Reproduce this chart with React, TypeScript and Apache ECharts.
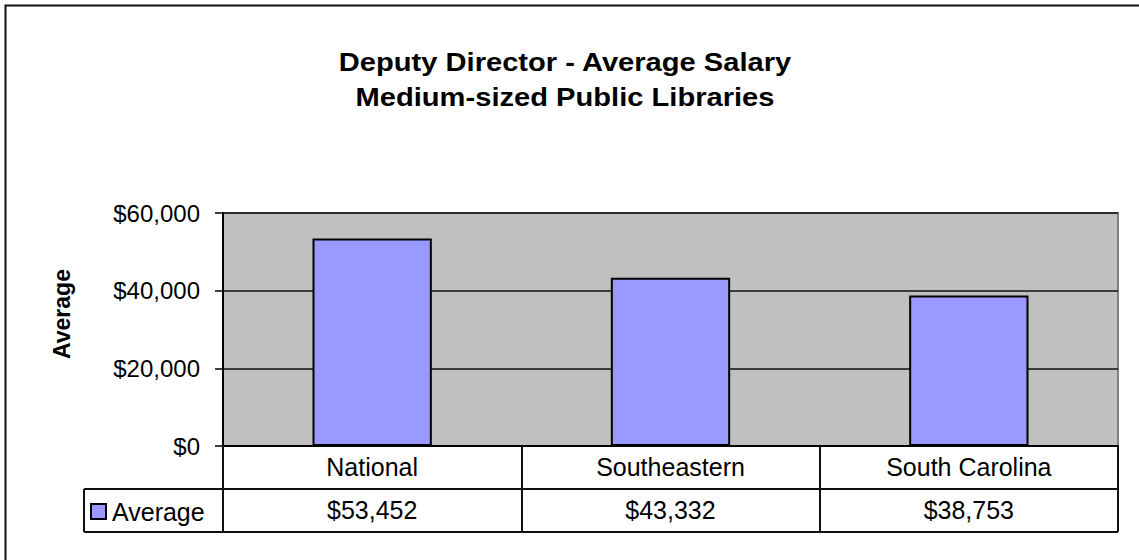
import React, { useEffect, useRef } from "react";
import * as echarts from "echarts";

const titleLines = ["Deputy Director - Average Salary", "Medium-sized Public Libraries"];
const categories = ["National", "Southeastern", "South Carolina"];
const seriesName = "Average";
const averageSalary = [53452, 43332, 38753];
const yTicks = { min: 0, max: 60000, interval: 20000 };

const fmt = (v: number) => "$" + Math.round(v).toLocaleString("en-US");

const FONT = "'Liberation Sans', Arial, Helvetica, sans-serif";

export default function App() {
  const ref = useRef<HTMLDivElement>(null);
  useEffect(() => {
    if (!ref.current) return;
    const chart = echarts.init(ref.current, undefined, { renderer: "svg" });
    const gl = 223, gt = 213, gw = 895, gh = 233;
    const gr = gl + gw, gb = gt + gh;
    const row1 = gb + 43, row2 = gb + 86, legLeft = 84;
    const lineStyle = { stroke: "#111", lineWidth: 2 };
    chart.setOption({
      animation: false,
      backgroundColor: "#fff",
      textStyle: { fontFamily: FONT },
      grid: {
        left: gl, top: gt, width: gw, height: gh,
        show: true, backgroundColor: "#C0C0C0", borderColor: "#808080", borderWidth: 2,
      },
      legend: {
        show: true, left: 85, top: 494, itemWidth: 15, itemHeight: 15, itemGap: 6,
        icon: "rect",
        itemStyle: { color: "#9999FF", borderColor: "#000", borderWidth: 2 },
        textStyle: { fontSize: 25, color: "#000", fontFamily: FONT, padding: [0, 0, 0, 1] },
        data: [seriesName],
      },
      xAxis: [
        {
          type: "category", data: categories, position: "bottom",
          axisLine: { show: true, lineStyle: { color: "#000", width: 2 } },
          axisTick: { show: true, length: 86, lineStyle: { color: "#111", width: 2 } },
          axisLabel: { fontSize: 25, color: "#000", margin: 8, fontFamily: FONT },
        },
        {
          type: "category", data: averageSalary.map(fmt), position: "bottom", offset: 43,
          axisLine: { show: false }, axisTick: { show: false },
          axisLabel: { fontSize: 25, color: "#000", margin: 8, fontFamily: FONT },
        },
      ],
      yAxis: {
        type: "value", min: yTicks.min, max: yTicks.max, interval: yTicks.interval,
        axisLine: { show: true, lineStyle: { color: "#000", width: 2 } },
        axisTick: { show: true, length: 8, lineStyle: { color: "#000", width: 1.5 } },
        axisLabel: { fontSize: 24, color: "#000", margin: 23, formatter: (v: number) => fmt(v), fontFamily: FONT },
        splitLine: { show: true, lineStyle: { color: "#111", width: 1.5 } },
      },
      series: [
        {
          name: seriesName, type: "bar", data: averageSalary, barWidth: "40%",
          itemStyle: { color: "#9999FF", borderColor: "#000", borderWidth: 2 },
        },
      ],
      graphic: [
        { type: "rect", shape: { x: 5.5, y: 5.5, width: 1200, height: 600 }, style: { fill: "none", stroke: "#111", lineWidth: 2 }, silent: true },
        ...titleLines.map((t, i) => ({
          type: "text", x: 565, y: 62.5 + i * 35, scaleX: 1.12,
          style: { text: t, fontSize: 26, fontWeight: "bold", fill: "#000", fontFamily: FONT, align: "center", verticalAlign: "middle" },
        })),
        {
          type: "text", x: 62, y: 314, rotation: Math.PI / 2,
          style: { text: seriesName, fontSize: 23, fontWeight: "bold", fill: "#000", fontFamily: FONT, align: "center", verticalAlign: "middle" },
        },
        { type: "line", shape: { x1: legLeft, y1: row1, x2: gr, y2: row1 }, style: lineStyle },
        { type: "line", shape: { x1: legLeft, y1: row2, x2: gr, y2: row2 }, style: lineStyle },
        { type: "line", shape: { x1: legLeft, y1: row1, x2: legLeft, y2: row2 }, style: lineStyle },
        { type: "line", shape: { x1: gr, y1: gb, x2: gr, y2: row2 }, style: lineStyle },
      ],
    });
    return () => chart.dispose();
  }, []);
  return <div ref={ref} style={{ position: "fixed", left: 0, top: 0, width: 1139, height: 560 }} />;
}
